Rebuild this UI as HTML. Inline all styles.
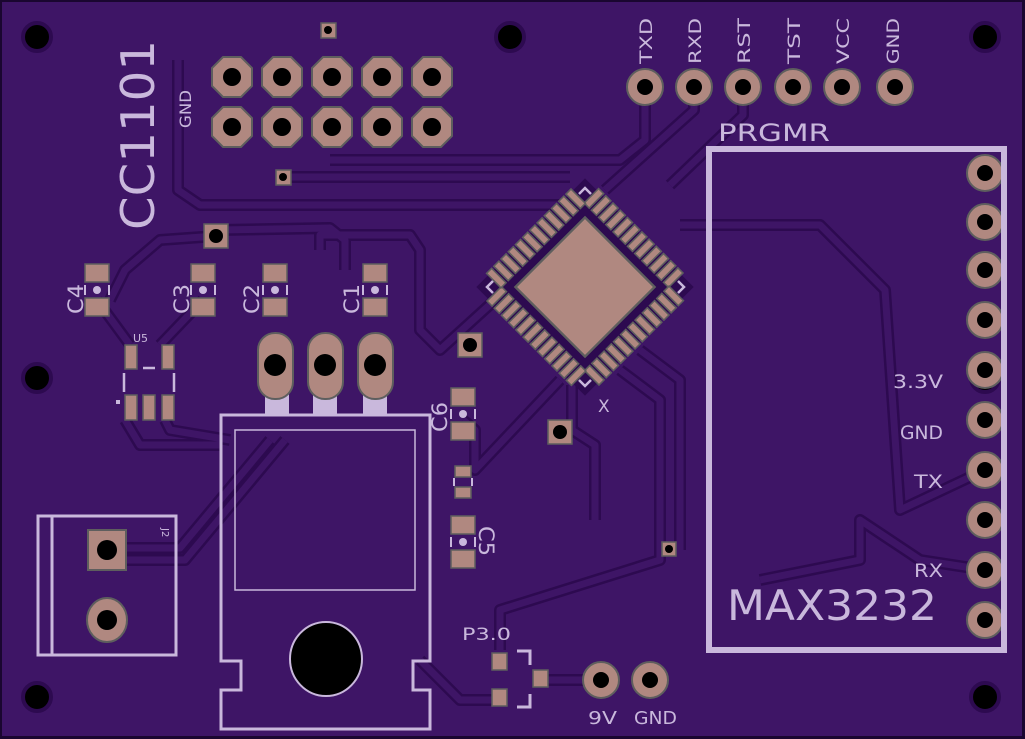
<!DOCTYPE html>
<html><head><meta charset="utf-8"><style>
html,body{margin:0;padding:0;background:#000;}
svg{display:block}
text{font-family:"DejaVu Sans","Liberation Sans",sans-serif;fill:#c9b8dc}
</style></head><body>
<svg width="1025" height="739" viewBox="0 0 1025 739" xmlns="http://www.w3.org/2000/svg" xmlns:xlink="http://www.w3.org/1999/xlink">
<defs>
<g id="oct"><polygon points="-9,-20 9,-20 20,-9 20,9 9,20 -9,20 -20,9 -20,-9" fill="#b08880" stroke="#5e5e5e" stroke-width="2"/><circle r="9" fill="#000"/></g>
<g id="rp"><circle r="18" fill="#b08880" stroke="#5e5e5e" stroke-width="2"/><circle r="8" fill="#000"/></g>
<g id="side" fill="#b08880" stroke="#5e5e5e" stroke-width="1.3">
<rect x="-50" y="-66" width="6" height="17"/><rect x="-41.5" y="-66" width="6" height="17"/><rect x="-33" y="-66" width="6" height="17"/><rect x="-24.5" y="-66" width="6" height="17"/><rect x="-16" y="-66" width="6" height="17"/><rect x="-7.5" y="-66" width="6" height="17"/><rect x="1" y="-66" width="6" height="17"/><rect x="9.5" y="-66" width="6" height="17"/><rect x="18" y="-66" width="6" height="17"/><rect x="26.5" y="-66" width="6" height="17"/><rect x="35" y="-66" width="6" height="17"/><rect x="43.5" y="-66" width="6" height="17"/>
</g>
<g id="cap"><rect x="-12" y="-26" width="24" height="18" fill="#b08880" stroke="#5e5e5e" stroke-width="1.5"/><rect x="-12" y="8" width="24" height="18" fill="#b08880" stroke="#5e5e5e" stroke-width="1.5"/><circle r="4" fill="#c9b8dc"/><path d="M-12 -5 V5 M12 -5 V5" stroke="#c9b8dc" stroke-width="2"/></g>
</defs>
<rect x="0" y="0" width="1025" height="739" fill="#1a0630"/>
<rect x="2" y="2" width="1020" height="734" fill="#3e1566"/>
<g fill="none" stroke-linejoin="round">
<g stroke="#2d0a50" stroke-width="12">
<path d="M178 60 V190 L200 205 H560"/>
<path d="M283 177 H570"/>
<path d="M645 87 V140 L620 160 H330"/>
<path d="M694 87 V110 L605 190"/>
<path d="M743 87 V115 L670 185"/>
<path d="M985 470 L900 510 L885 290 L820 225 H680"/>
<path d="M985 570 L920 560 L860 520 V560 L760 580"/>
<path d="M216 236 L160 240 L125 270 L110 300"/>
<path d="M220 230 L330 228 L345 240 V270"/>
<path d="M320 250 V235 L410 235 L420 250 V330 L440 350 L495 300"/>
<path d="M203 300 L160 345"/>
<path d="M97 300 L130 345"/>
<path d="M125 420 L140 445 H220"/>
<path d="M165 420 L170 430 L230 440"/>
<path d="M107 548 H180 L270 440"/>
<path d="M107 560 H185 L285 440"/>
<path d="M463 420 L475 430 V470 L560 380"/>
<path d="M572 385 V430 L595 445 V520"/>
<path d="M620 370 L660 400 V560 L500 610 V650"/>
<path d="M640 350 L680 380 V550"/>
<path d="M420 660 L460 700 H500"/>
<path d="M540 680 H600"/>
</g>
<g stroke="#3e1566" stroke-width="7">
<path d="M178 60 V190 L200 205 H560"/>
<path d="M283 177 H570"/>
<path d="M645 87 V140 L620 160 H330"/>
<path d="M694 87 V110 L605 190"/>
<path d="M743 87 V115 L670 185"/>
<path d="M985 470 L900 510 L885 290 L820 225 H680"/>
<path d="M985 570 L920 560 L860 520 V560 L760 580"/>
<path d="M216 236 L160 240 L125 270 L110 300"/>
<path d="M220 230 L330 228 L345 240 V270"/>
<path d="M320 250 V235 L410 235 L420 250 V330 L440 350 L495 300"/>
<path d="M203 300 L160 345"/>
<path d="M97 300 L130 345"/>
<path d="M125 420 L140 445 H220"/>
<path d="M165 420 L170 430 L230 440"/>
<path d="M107 548 H180 L270 440"/>
<path d="M107 560 H185 L285 440"/>
<path d="M463 420 L475 430 V470 L560 380"/>
<path d="M572 385 V430 L595 445 V520"/>
<path d="M620 370 L660 400 V560 L500 610 V650"/>
<path d="M640 350 L680 380 V550"/>
<path d="M420 660 L460 700 H500"/>
<path d="M540 680 H600"/>
</g>
</g>
<g fill="#000" stroke="#2d0a50" stroke-width="4">
<circle cx="37" cy="37" r="14"/><circle cx="37" cy="378" r="14"/><circle cx="37" cy="697" r="14"/>
<circle cx="510" cy="37" r="14"/><circle cx="985" cy="37" r="14"/><circle cx="985" cy="378" r="14"/><circle cx="985" cy="697" r="14"/>
</g>
<use xlink:href="#oct" x="232" y="77"/><use xlink:href="#oct" x="282" y="77"/><use xlink:href="#oct" x="332" y="77"/><use xlink:href="#oct" x="382" y="77"/><use xlink:href="#oct" x="432" y="77"/>
<use xlink:href="#oct" x="232" y="127"/><use xlink:href="#oct" x="282" y="127"/><use xlink:href="#oct" x="332" y="127"/><use xlink:href="#oct" x="382" y="127"/><use xlink:href="#oct" x="432" y="127"/>
<use xlink:href="#rp" x="645" y="87"/><use xlink:href="#rp" x="694" y="87"/><use xlink:href="#rp" x="743" y="87"/><use xlink:href="#rp" x="793" y="87"/><use xlink:href="#rp" x="842" y="87"/><use xlink:href="#rp" x="895" y="87"/>
<use xlink:href="#rp" x="985" y="173"/><use xlink:href="#rp" x="985" y="222"/><use xlink:href="#rp" x="985" y="270"/><use xlink:href="#rp" x="985" y="320"/><use xlink:href="#rp" x="985" y="370"/><use xlink:href="#rp" x="985" y="420"/><use xlink:href="#rp" x="985" y="470"/><use xlink:href="#rp" x="985" y="520"/><use xlink:href="#rp" x="985" y="570"/><use xlink:href="#rp" x="985" y="620"/>
<use xlink:href="#rp" x="601" y="680"/><use xlink:href="#rp" x="650" y="680"/>
<g fill="#b08880" stroke="#5e5e5e" stroke-width="1.5">
<rect x="321" y="23" width="15" height="15"/><rect x="276" y="170" width="15" height="15"/><rect x="204" y="224" width="24" height="24"/><rect x="458" y="333" width="24" height="24"/><rect x="548" y="420" width="24" height="24"/><rect x="662" y="542" width="14" height="14"/>
</g>
<g fill="#000"><circle cx="328" cy="30" r="4"/><circle cx="283" cy="177" r="4"/><circle cx="216" cy="236" r="7"/><circle cx="470" cy="345" r="7"/><circle cx="560" cy="432" r="7"/><circle cx="669" cy="549" r="4"/></g>
<use xlink:href="#cap" x="97" y="290"/><use xlink:href="#cap" x="203" y="290"/><use xlink:href="#cap" x="275" y="290"/><use xlink:href="#cap" x="375" y="290"/><use xlink:href="#cap" x="463" y="414"/><use xlink:href="#cap" x="463" y="542"/>
<g transform="translate(585 287) rotate(45) scale(1.2)">
<rect x="-64" y="-64" width="128" height="128" fill="#2d0a50"/>
<use xlink:href="#side"/>
<use xlink:href="#side" transform="rotate(90)"/>
<use xlink:href="#side" transform="rotate(180)"/>
<use xlink:href="#side" transform="rotate(270)"/>
<rect x="-41" y="-41" width="82" height="82" fill="#b08880" stroke="#5e5e5e" stroke-width="2"/>
</g>
<path d="M579 194 L585 188 L591 194 M493 281 L487 287 L493 293 M678 281 L684 287 L678 293 M579 380 L585 386 L591 380" fill="none" stroke="#c9b8dc" stroke-width="2.5"/>
<text font-size="46" textLength="190" lengthAdjust="spacingAndGlyphs" transform="translate(154,230) rotate(-90)">CC1101</text>
<text font-size="16" textLength="38" lengthAdjust="spacingAndGlyphs" transform="translate(191,128) rotate(-90)">GND</text>
<g font-size="17">
<text textLength="46" lengthAdjust="spacingAndGlyphs" transform="translate(652,64) rotate(-90)">TXD</text>
<text textLength="46" lengthAdjust="spacingAndGlyphs" transform="translate(701,64) rotate(-90)">RXD</text>
<text textLength="46" lengthAdjust="spacingAndGlyphs" transform="translate(750,64) rotate(-90)">RST</text>
<text textLength="46" lengthAdjust="spacingAndGlyphs" transform="translate(800,64) rotate(-90)">TST</text>
<text textLength="46" lengthAdjust="spacingAndGlyphs" transform="translate(849,64) rotate(-90)">VCC</text>
<text textLength="46" lengthAdjust="spacingAndGlyphs" transform="translate(899,64) rotate(-90)">GND</text>
</g>
<text x="718" y="141" font-size="24" textLength="112" lengthAdjust="spacingAndGlyphs">PRGMR</text>
<rect x="709" y="149" width="295" height="501" fill="none" stroke="#c9b8dc" stroke-width="6"/>
<text x="727" y="620" font-size="42" textLength="210" lengthAdjust="spacingAndGlyphs">MAX3232</text>
<g font-size="19">
<text x="893" y="388" textLength="50" lengthAdjust="spacingAndGlyphs">3.3V</text>
<text x="900" y="439" textLength="43" lengthAdjust="spacingAndGlyphs">GND</text>
<text x="914" y="488" textLength="29" lengthAdjust="spacingAndGlyphs">TX</text>
<text x="914" y="577" textLength="29" lengthAdjust="spacingAndGlyphs">RX</text>
</g>
<g font-size="21">
<text textLength="30" lengthAdjust="spacingAndGlyphs" transform="translate(83,314) rotate(-90)">C4</text>
<text textLength="30" lengthAdjust="spacingAndGlyphs" transform="translate(189,314) rotate(-90)">C3</text>
<text textLength="30" lengthAdjust="spacingAndGlyphs" transform="translate(259,314) rotate(-90)">C2</text>
<text textLength="30" lengthAdjust="spacingAndGlyphs" transform="translate(359,314) rotate(-90)">C1</text>
<text textLength="30" lengthAdjust="spacingAndGlyphs" transform="translate(447,432) rotate(-90)">C6</text>
<text textLength="30" lengthAdjust="spacingAndGlyphs" transform="translate(479,526) rotate(90)">C5</text>
</g>
<text x="133" y="342" font-size="11">U5</text>
<text x="162" y="528" font-size="10" transform="rotate(90 162 528)">J2</text>
<text x="598" y="412" font-size="17">X</text>
<text x="462" y="640" font-size="17" textLength="49" lengthAdjust="spacingAndGlyphs">P3.0</text>
<text x="588" y="724" font-size="18" textLength="29" lengthAdjust="spacingAndGlyphs">9V</text>
<text x="634" y="724" font-size="18" textLength="43" lengthAdjust="spacingAndGlyphs">GND</text>
<path d="M221 415 H430 V661 H413 V690 H430 V729 H221 V690 H241 V661 H221 Z" fill="none" stroke="#c9b8dc" stroke-width="3"/>
<rect x="235" y="430" width="180" height="160" fill="none" stroke="#c9b8dc" stroke-width="1.5"/>
<rect x="265" y="390" width="24" height="26" fill="#c9b8dc"/>
<rect x="313" y="390" width="24" height="26" fill="#c9b8dc"/>
<rect x="363" y="390" width="24" height="26" fill="#c9b8dc"/>
<ellipse cx="326" cy="659" rx="36" ry="37" fill="#000" stroke="#c9b8dc" stroke-width="2"/>
<rect x="38" y="516" width="138" height="139" fill="none" stroke="#c9b8dc" stroke-width="3"/>
<line x1="52" y1="516" x2="52" y2="655" stroke="#c9b8dc" stroke-width="3"/>
<rect x="88" y="530" width="38" height="40" fill="#b08880" stroke="#5e5e5e" stroke-width="2"/>
<circle cx="107" cy="550" r="10" fill="#000"/>
<ellipse cx="107" cy="620" rx="20" ry="22" fill="#b08880" stroke="#5e5e5e" stroke-width="2"/>
<circle cx="107" cy="620" r="10" fill="#000"/>
<g fill="#b08880" stroke="#5e5e5e" stroke-width="2">
<rect x="258" y="333" width="35" height="66" rx="17"/>
<rect x="308" y="333" width="35" height="66" rx="17"/>
<rect x="358" y="333" width="35" height="66" rx="17"/>
</g>
<g fill="#000"><circle cx="275" cy="365" r="11"/><circle cx="325" cy="365" r="11"/><circle cx="375" cy="365" r="11"/></g>
<g fill="#b08880" stroke="#5e5e5e" stroke-width="1.5">
<rect x="492" y="653" width="15" height="17"/><rect x="492" y="689" width="15" height="17"/><rect x="533" y="670" width="15" height="17"/>
</g>
<path d="M517 651 H530 V665 M517 707 H530 V694" fill="none" stroke="#c9b8dc" stroke-width="3"/>
<g fill="#b08880" stroke="#5e5e5e" stroke-width="1.5">
<rect x="125" y="345" width="12" height="24"/><rect x="162" y="345" width="12" height="24"/>
<rect x="125" y="395" width="12" height="25"/><rect x="143" y="395" width="12" height="25"/><rect x="162" y="395" width="12" height="25"/>
</g>
<path d="M143 368 H155 M124 373 V392 M174 373 V392" stroke="#c9b8dc" stroke-width="2.5"/>
<rect x="116" y="400" width="4" height="4" fill="#c9b8dc"/>
<g fill="#b08880" stroke="#5e5e5e" stroke-width="1.5">
<rect x="455" y="466" width="16" height="11"/><rect x="455" y="487" width="16" height="11"/>
</g>
<path d="M454 478 V486 M472 478 V486" stroke="#c9b8dc" stroke-width="2"/>
</svg>
</body></html>
